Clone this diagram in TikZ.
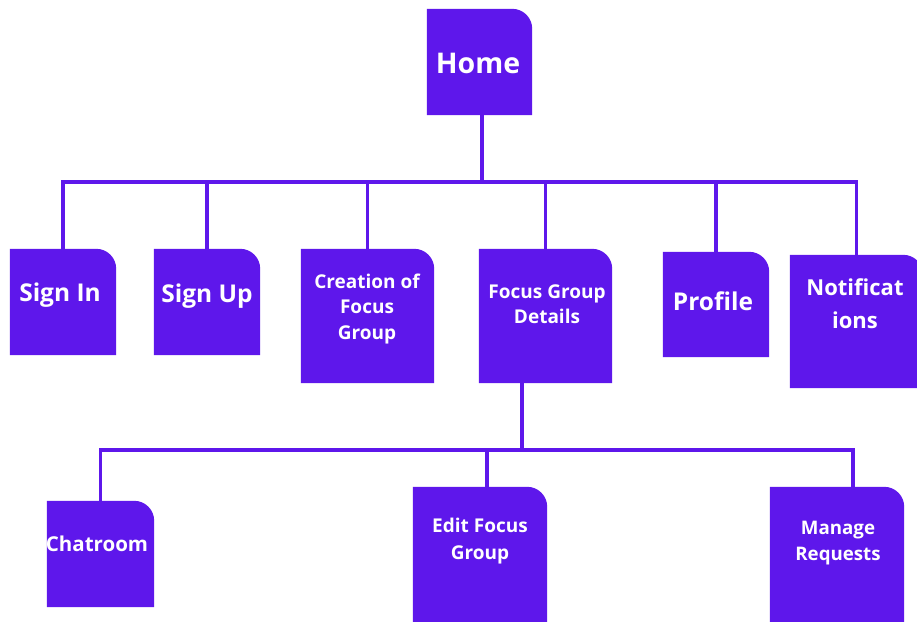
\documentclass[tikz,border=0pt]{standalone}
\usepackage{fontspec}
\setmainfont{Open Sans}
\definecolor{boxc}{HTML}{5E17EB}
\newcommand\myboxfill[1]{\fill[boxc] (#1.south west) -- (#1.north west) [rounded corners=20pt] -- (#1.north east) [sharp corners] -- (#1.south east) -- cycle;}
\begin{document}
\begin{tikzpicture}[x=1pt,y=-1pt,
  box/.style={rectangle,inner sep=0pt},
  lbl/.style={text=white,align=center,inner sep=0pt},
  conn/.style={draw=boxc,line width=3.5pt,line cap=rect}]
\useasboundingbox (0,0) rectangle (917,621);
% boxes
\node[box,minimum width=105pt,minimum height=106pt] (home) at (479.5,62) {};
\node[box,minimum width=106pt,minimum height=106pt] (signin) at (63,302) {};
\node[box,minimum width=106pt,minimum height=106pt] (signup) at (207,302) {};
\node[box,minimum width=133pt,minimum height=134pt] (creation) at (367.5,316) {};
\node[box,minimum width=133pt,minimum height=134pt] (fgd) at (545.5,316) {};
\node[box,minimum width=106pt,minimum height=105pt] (profile) at (716,304.5) {};
\node[box,minimum width=133pt,minimum height=133pt] (notif) at (856.5,321.5) {};
\node[box,minimum width=107pt,minimum height=106pt] (chat) at (100.5,554) {};
\node[box,minimum width=134pt,minimum height=136pt] (edit) at (480,555) {};
\node[box,minimum width=134pt,minimum height=136pt] (manage) at (837,555) {};
\foreach \n in {home,signin,signup,creation,fgd,profile,notif,chat,edit,manage}
  {\myboxfill{\n}}
% labels
\node[lbl,font=\bfseries\fontsize{28.5}{32}\selectfont] (homet) at (478,63) {Home};
\node[lbl,font=\bfseries\fontsize{24.5}{28}\selectfont] (signint) at (60,295) {Sign In};
\node[lbl,font=\bfseries\fontsize{24.5}{28}\selectfont] (signupt) at (207,296) {Sign Up};
\node[lbl,font=\bfseries\fontsize{19}{25.5}\selectfont] (creationt) at (367,309) {Creation of\\Focus\\Group};
\node[lbl,font=\bfseries\fontsize{19}{25}\selectfont] (fgdt) at (547,304) {Focus Group\\Details};
\node[lbl,font=\bfseries\fontsize{24.5}{28}\selectfont] (profilet) at (713,301) {Profile};
\node[lbl,font=\bfseries\fontsize{22}{33}\selectfont] (notift) at (855,304) {Notificat\\ions};
\node[lbl,font=\bfseries\fontsize{20.5}{24}\selectfont] (chatt) at (97,544) {Chatroom};
\node[lbl,font=\bfseries\fontsize{19}{27}\selectfont] (editt) at (480,541) {Edit Focus\\Group};
\node[lbl,font=\bfseries\fontsize{18.7}{26}\selectfont] (managet) at (838,543) {Manage\\Requests};
% junctions
\coordinate (bus1) at (482,182);
\coordinate (fgdout) at (522,383);
\coordinate (bus2) at (522,450);
\coordinate (editin) at (487,487);
\coordinate (managein) at (853,487);
% upper tree
\draw[conn] (home.south -| bus1) -- (bus1);
\draw[conn] (signin.north |- bus1) -- (notif.north |- bus1);
\foreach \n in {signin,signup,creation,fgd,profile,notif}
  {\draw[conn] (\n.north |- bus1) -- (\n.north);}
% lower tree
\draw[conn] (fgdout) -- (bus2);
\draw[conn] (chat.north |- bus2) -- (managein |- bus2);
\draw[conn] (chat.north |- bus2) -- (chat.north);
\draw[conn] (editin |- bus2) -- (editin);
\draw[conn] (managein |- bus2) -- (managein);
\end{tikzpicture}
\end{document}
